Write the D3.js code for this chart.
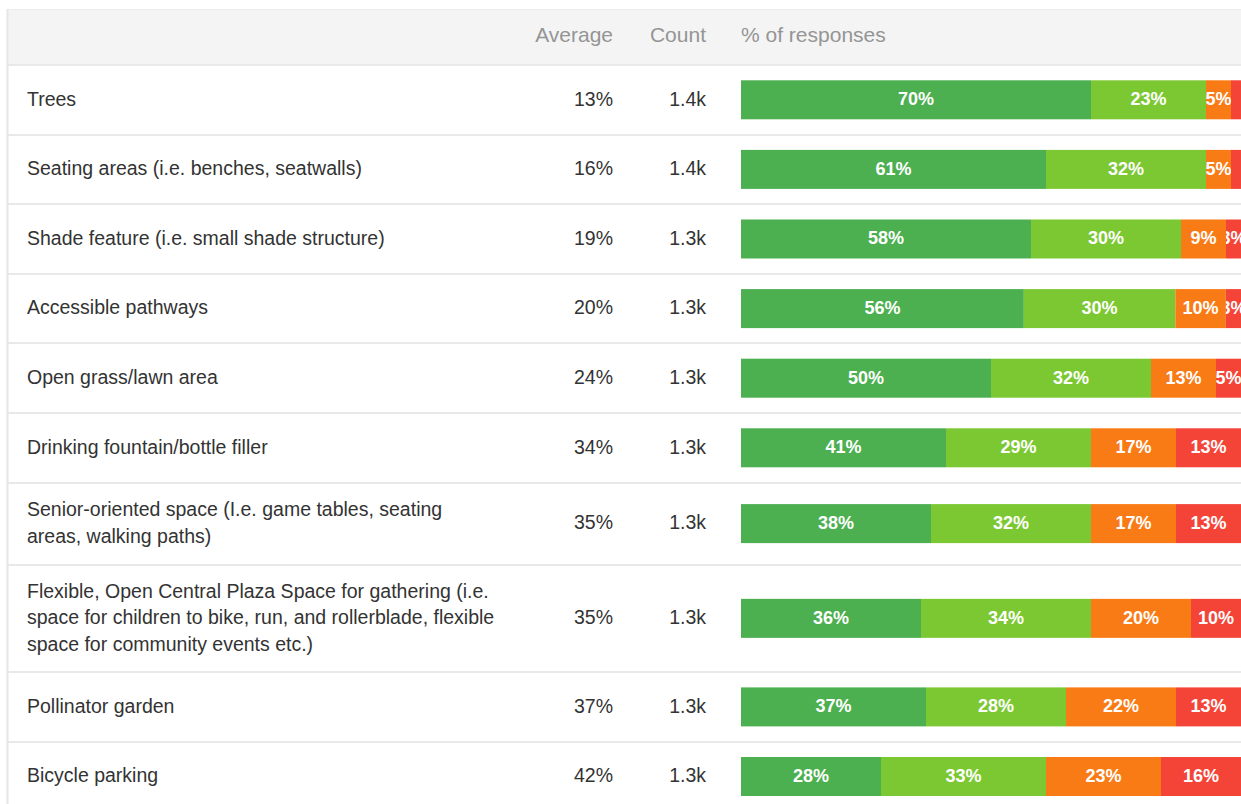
<!DOCTYPE html>
<html>
<head>
<meta charset="utf-8">
<script src="https://cdn.jsdelivr.net/npm/d3@7"></script>
<style>
  html, body { margin: 0; padding: 0; background: #ffffff; }
  svg { display: block; font-family: "Liberation Sans", Arial, sans-serif; }
</style>
</head>
<body>
<svg id="chart" width="1241" height="804"></svg>
<script>
// Survey items, one row each (line breaks mark the wrapped label lines)
const categories = [
  "Trees",
  "Seating areas (i.e. benches, seatwalls)",
  "Shade feature (i.e. small shade structure)",
  "Accessible pathways",
  "Open grass/lawn area",
  "Drinking fountain/bottle filler",
  "Senior-oriented space (I.e. game tables, seating\nareas, walking paths)",
  "Flexible, Open Central Plaza Space for gathering (i.e.\nspace for children to bike, run, and rollerblade, flexible\nspace for community events etc.)",
  "Pollinator garden",
  "Bicycle parking"
];
const averages = ["13%", "16%", "19%", "20%", "24%", "34%", "35%", "35%", "37%", "42%"];
const counts = ["1.4k", "1.4k", "1.3k", "1.3k", "1.3k", "1.3k", "1.3k", "1.3k", "1.3k", "1.3k"];

// Share of responses per rating level (percent), first to last level
const level1 = [70, 61, 58, 56, 50, 41, 38, 36, 37, 28];
const level2 = [23, 32, 30, 30, 32, 29, 32, 34, 28, 33];
const level3 = [5, 5, 9, 10, 13, 17, 17, 20, 22, 23];
const level4 = [2, 2, 3, 3, 5, 13, 13, 10, 13, 16];

const headers = ["Average", "Count", "% of responses"];
const levelColors = ["#4caf50", "#7cc832", "#f97b16", "#f44438"];

const svg = d3.select("#chart");
const W = 1241;
const tableLeft = 8;
const headerTop = 10, headerBottom = 65;
const labelX = 27, avgRight = 613, countRight = 706;
const barLeft = 741, barRight = 1241, barH = 39;
const lineH = 26.5;
const bodySize = 19.5, headerSize = 21;

// Row geometry from the number of label lines
const rows = categories.map((c, i) => {
  const lines = c.split("\n");
  return {
    i, lines,
    h: Math.max(69.6, lines.length * 25.5 + 31),
    avg: averages[i], count: counts[i],
    vals: [level1[i], level2[i], level3[i], level4[i]]
  };
});
let yCursor = headerBottom;
rows.forEach(r => { r.y0 = yCursor; yCursor += r.h; r.cy = r.y0 + r.h / 2; });

// Header band
svg.append("rect")
  .attr("x", tableLeft).attr("y", headerTop)
  .attr("width", W - tableLeft).attr("height", headerBottom - headerTop)
  .attr("fill", "#f4f4f4");
svg.append("line")
  .attr("x1", tableLeft).attr("x2", W).attr("y1", headerTop - 0.5).attr("y2", headerTop - 0.5)
  .attr("stroke", "#ececec").attr("stroke-width", 1);

const headerG = svg.append("g").attr("fill", "#959595").attr("font-size", headerSize);
headerG.append("text").attr("x", avgRight).attr("y", 35).attr("dy", "0.35em")
  .attr("text-anchor", "end").text(headers[0]);
headerG.append("text").attr("x", countRight).attr("y", 35).attr("dy", "0.35em")
  .attr("text-anchor", "end").text(headers[1]);
headerG.append("text").attr("x", barLeft).attr("y", 35).attr("dy", "0.35em")
  .attr("text-anchor", "start").text(headers[2]);

// Row separators
svg.selectAll("line.sep")
  .data([{ y0: headerBottom }].concat(rows.map(r => ({ y0: r.y0 + r.h }))))
  .join("line")
  .attr("class", "sep")
  .attr("x1", tableLeft).attr("x2", W)
  .attr("y1", d => Math.round(d.y0)).attr("y2", d => Math.round(d.y0))
  .attr("stroke", "#e9e9e9").attr("stroke-width", 2);

// Left table border
svg.append("line")
  .attr("x1", tableLeft - 0.5).attr("x2", tableLeft - 0.5)
  .attr("y1", headerTop - 1).attr("y2", 804)
  .attr("stroke", "#e6e6e6").attr("stroke-width", 2);

const defs = svg.append("defs");

const rowG = svg.selectAll("g.row").data(rows).join("g").attr("class", "row");

// Item label (possibly wrapped)
rowG.append("text")
  .attr("fill", "#333333").attr("font-size", bodySize)
  .each(function (d) {
    const t = d3.select(this);
    const n = d.lines.length;
    d.lines.forEach((ln, k) => {
      t.append("tspan")
        .attr("x", labelX)
        .attr("y", d.cy - 1 + (k - (n - 1) / 2) * lineH)
        .attr("dy", "0.35em")
        .text(ln);
    });
  });

rowG.append("text")
  .attr("fill", "#333333").attr("font-size", bodySize)
  .attr("x", avgRight).attr("y", d => d.cy - 1).attr("dy", "0.35em")
  .attr("text-anchor", "end").text(d => d.avg);

rowG.append("text")
  .attr("fill", "#333333").attr("font-size", bodySize)
  .attr("x", countRight).attr("y", d => d.cy - 1).attr("dy", "0.35em")
  .attr("text-anchor", "end").text(d => d.count);

// Stacked percentage bars
rowG.each(function (d) {
  const g = d3.select(this);
  const total = d3.sum(d.vals);
  const x = d3.scaleLinear().domain([0, total]).range([barLeft, barRight]);
  const stack = d3.cumsum(d.vals);
  const segs = d.vals.map((v, k) => ({ v, k, x0: stack[k] - v, x1: stack[k] }));
  const y0 = d.cy - barH / 2;

  g.selectAll("rect.seg").data(segs).join("rect")
    .attr("class", "seg")
    .attr("x", s => x(s.x0)).attr("y", y0)
    .attr("width", s => x(s.x1) - x(s.x0)).attr("height", barH)
    .attr("fill", s => levelColors[s.k]);

  // Value labels, clipped to their own segment
  segs.forEach(s => {
    if (s.v < 3) return;
    const id = `clip-${d.i}-${s.k}`;
    defs.append("clipPath").attr("id", id)
      .append("rect")
      .attr("x", x(s.x0)).attr("y", y0)
      .attr("width", x(s.x1) - x(s.x0)).attr("height", barH);
    g.append("text")
      .attr("clip-path", `url(#${id})`)
      .attr("x", (x(s.x0) + x(s.x1)) / 2)
      .attr("y", d.cy - 1).attr("dy", "0.35em")
      .attr("text-anchor", "middle")
      .attr("fill", "#ffffff").attr("font-weight", "bold").attr("font-size", 18)
      .text(s.v + "%");
  });
});
</script>
</body>
</html>
